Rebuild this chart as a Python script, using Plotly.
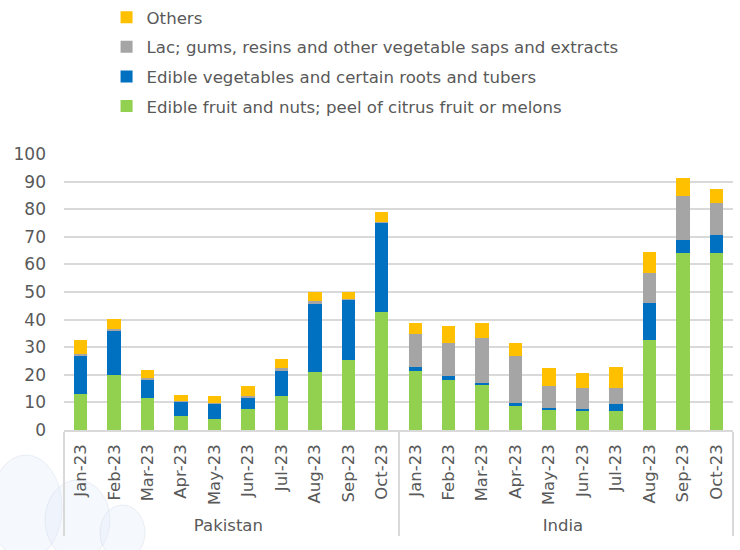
import plotly.graph_objects as go

months = ["Jan-23", "Feb-23", "Mar-23", "Apr-23", "May-23",
          "Jun-23", "Jul-23", "Aug-23", "Sep-23", "Oct-23"]
countries = ["Pakistan", "India"]

# Stacked segment values per country (Jan..Oct 2023)
fruit_pak = [13.1, 19.9, 11.5, 5.1, 4.1, 7.5, 12.2, 20.9, 25.3, 42.9]
veg_pak = [14.0, 15.9, 6.7, 5.1, 5.6, 4.2, 9.1, 24.7, 21.8, 32.2]
lac_pak = [0.5, 0.8, 0.7, 0.3, 0.2, 0.5, 1.0, 1.1, 0.5, 0.3]
others_pak = [5.1, 3.6, 3.0, 2.3, 2.6, 3.7, 3.4, 3.3, 2.4, 3.7]

fruit_ind = [21.5, 18.0, 16.2, 8.8, 7.1, 7.1, 6.8, 32.6, 64.0, 64.2]
veg_ind = [1.3, 1.5, 1.0, 0.9, 1.0, 0.5, 2.8, 13.3, 4.9, 6.5]
lac_ind = [12.1, 12.1, 16.1, 17.1, 7.8, 7.8, 5.5, 11.0, 16.0, 11.4]
others_ind = [3.8, 6.1, 5.4, 4.7, 6.7, 5.4, 7.7, 7.5, 6.3, 5.1]

series = [
    ("Edible fruit and nuts; peel of citrus fruit or melons", fruit_pak + fruit_ind, "#92D050"),
    ("Edible vegetables and certain roots and tubers", veg_pak + veg_ind, "#0070C0"),
    ("Lac; gums, resins and other vegetable saps and extracts", lac_pak + lac_ind, "#A5A5A5"),
    ("Others", others_pak + others_ind, "#FFC000"),
]

x_groups = [c for c in countries for _ in months]
x_months = months * len(countries)

FONT = "DejaVu Sans"
TEXT = "#595959"

fig = go.Figure()
for i, (name, vals, color) in enumerate(series):
    fig.add_trace(go.Bar(
        x=[x_groups, x_months], y=vals, name=name,
        marker=dict(color=color, line=dict(width=0)),
        legendgroup=f"g{i}",
        legendrank=len(series) - i,
    ))

# faint background logo shapes in the lower-left corner
for x0, y0, x1, y1 in [(-10, 455, 62, 560), (45, 480, 110, 560), (100, 505, 145, 560)]:
    fig.add_shape(type="circle", xref="paper", yref="paper",
                  x0=(x0 - 64) / 669, x1=(x1 - 64) / 669,
                  y0=(430 - y1) / 276, y1=(430 - y0) / 276,
                  fillcolor="rgba(226,236,250,0.35)",
                  line=dict(width=1, color="rgba(200,210,225,0.35)"),
                  layer="below")

fig.update_layout(
    barmode="stack",
    bargap=0.6,
    width=740, height=550,
    margin=dict(l=64, r=7, t=154, b=120, autoexpand=False),
    paper_bgcolor="white", plot_bgcolor="rgba(0,0,0,0)",
    font=dict(family=FONT, color=TEXT, size=16),
    legend=dict(
        traceorder="grouped",
        tracegroupgap=5,
        xref="container", yref="container",
        x=0.144, xanchor="left", y=1.007, yanchor="top",
        font=dict(size=16.6, color=TEXT, family=FONT),
        itemwidth=30,
        bgcolor="rgba(0,0,0,0)",
    ),
    xaxis=dict(
        type="multicategory",
        tickangle=-90,
        tickfont=dict(size=16.5, color=TEXT, family=FONT),
        showline=True, linecolor="#D9D9D9", linewidth=1.5,
        showdividers=True, dividercolor="#D9D9D9", dividerwidth=1.5,
        ticks="",
        ticklabelstandoff=6,
        showgrid=False,
    ),
    yaxis=dict(
        range=[0, 100], dtick=10,
        showgrid=True, gridcolor="#D9D9D9", gridwidth=1.5,
        zeroline=False,
        tickfont=dict(size=17, color=TEXT, family=FONT),
        ticks="", ticklabelstandoff=17,
    ),
)

fig.write_html("out.html")
